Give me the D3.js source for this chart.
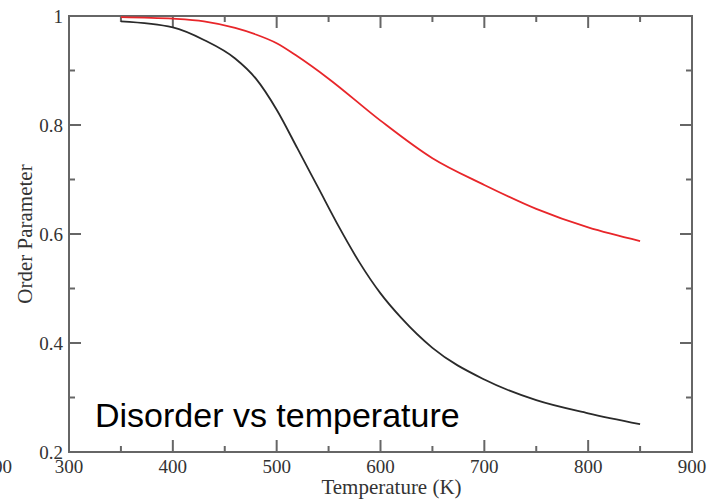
<!DOCTYPE html>
<html>
<head>
<meta charset="utf-8">
<script src="https://cdn.jsdelivr.net/npm/d3@7"></script>
<style>
  body { margin: 0; background: #fff; }
  .tick-label { font-family: "Liberation Serif", "Times New Roman", serif; font-size: 19px; fill: #333; }
  .axis-title { font-family: "Liberation Serif", "Times New Roman", serif; font-size: 21px; fill: #333; }
  .note { font-family: "Liberation Sans", Arial, sans-serif; font-size: 34px; fill: #000; }
</style>
</head>
<body>
<div id="chart"></div>
<script>
// temperatures (K)
const tempsBlack = [350, 400, 430, 460, 480, 500, 520, 540, 560, 580, 600, 620, 650, 700, 750, 800, 850];
const orderBlack = [0.99, 0.979, 0.956, 0.922, 0.885, 0.828, 0.757, 0.685, 0.613, 0.547, 0.491, 0.446, 0.391, 0.333, 0.295, 0.271, 0.251];

const tempsRed = [350, 400, 430, 460, 480, 500, 520, 550, 600, 650, 700, 750, 800, 850];
const orderRed = [0.998, 0.995, 0.99, 0.978, 0.966, 0.95, 0.926, 0.885, 0.808, 0.739, 0.69, 0.646, 0.612, 0.587];

const xMajor = [300, 400, 500, 600, 700, 800, 900];
const xMinor = [350, 450, 550, 650, 750, 850];
const yMajor = [0.2, 0.4, 0.6, 0.8, 1];
const yMinor = [0.3, 0.5, 0.7, 0.9];

const width = 708, height = 499;
const margin = { top: 16, right: 16, bottom: 47, left: 69 };
const innerW = width - margin.left - margin.right;
const innerH = height - margin.top - margin.bottom;

const svg = d3.select("#chart").append("svg")
  .attr("width", width)
  .attr("height", height);

const chart = svg.append("g")
  .attr("transform", `translate(${margin.left},${margin.top})`);

const x = d3.scaleLinear().domain([300, 900]).range([0, innerW]);
const y = d3.scaleLinear().domain([0.2, 1]).range([innerH, 0]);

const axisColor = "#666";
const majorLen = 12, minorLen = 6;

// frame
chart.append("rect")
  .attr("width", innerW)
  .attr("height", innerH)
  .attr("fill", "none")
  .attr("stroke", axisColor)
  .attr("stroke-width", 2);

// inward ticks on all four sides
function ticks(cls, vals, len, horizontal) {
  const g = chart.append("g").attr("class", cls)
    .attr("stroke", axisColor).attr("stroke-width", 2);
  if (horizontal) {
    g.selectAll("line.b").data(vals).join("line").attr("class", "b")
      .attr("x1", d => x(d)).attr("x2", d => x(d))
      .attr("y1", innerH).attr("y2", innerH - len);
    g.selectAll("line.t").data(vals).join("line").attr("class", "t")
      .attr("x1", d => x(d)).attr("x2", d => x(d))
      .attr("y1", 0).attr("y2", len);
  } else {
    g.selectAll("line.l").data(vals).join("line").attr("class", "l")
      .attr("x1", 0).attr("x2", len)
      .attr("y1", d => y(d)).attr("y2", d => y(d));
    g.selectAll("line.r").data(vals).join("line").attr("class", "r")
      .attr("x1", innerW).attr("x2", innerW - len)
      .attr("y1", d => y(d)).attr("y2", d => y(d));
  }
}
ticks("x-major", xMajor, majorLen, true);
ticks("x-minor", xMinor, minorLen, true);
ticks("y-major", yMajor, majorLen, false);
ticks("y-minor", yMinor, minorLen, false);

// tick labels
chart.selectAll(".x-label").data(xMajor).join("text")
  .attr("class", "tick-label x-label")
  .attr("x", d => x(d))
  .attr("y", innerH + 21)
  .attr("text-anchor", "middle")
  .text(d => d);

chart.selectAll(".y-label").data(yMajor).join("text")
  .attr("class", "tick-label y-label")
  .attr("x", -6)
  .attr("y", d => y(d))
  .attr("dy", "0.35em")
  .attr("text-anchor", "end")
  .text(d => d);

// stray clipped label at the far left
svg.append("text")
  .attr("class", "tick-label")
  .attr("x", 12)
  .attr("y", height - 26)
  .attr("text-anchor", "end")
  .text("900");

// axis titles
svg.append("text")
  .attr("class", "axis-title")
  .attr("x", margin.left + x(600) + 11)
  .attr("y", height - 5)
  .attr("text-anchor", "middle")
  .text("Temperature (K)");

svg.append("text")
  .attr("class", "axis-title")
  .attr("transform", `translate(32,${margin.top + y(0.6)}) rotate(-90)`)
  .attr("text-anchor", "middle")
  .text("Order Parameter");

// curves
const line = d3.line()
  .x(d => x(d[0]))
  .y(d => y(d[1]))
  .curve(d3.curveMonotoneX);

chart.append("path")
  .datum(tempsRed.map((t, i) => [t, orderRed[i]]))
  .attr("fill", "none")
  .attr("stroke", "#e8262a")
  .attr("stroke-width", 1.8)
  .attr("d", line);

chart.append("path")
  .datum(tempsBlack.map((t, i) => [t, orderBlack[i]]))
  .attr("fill", "none")
  .attr("stroke", "#2a2a2a")
  .attr("stroke-width", 1.8)
  .attr("d", line);

// annotation
svg.append("text")
  .attr("class", "note")
  .attr("x", 95)
  .attr("y", 427)
  .text("Disorder vs temperature");
</script>
</body>
</html>
